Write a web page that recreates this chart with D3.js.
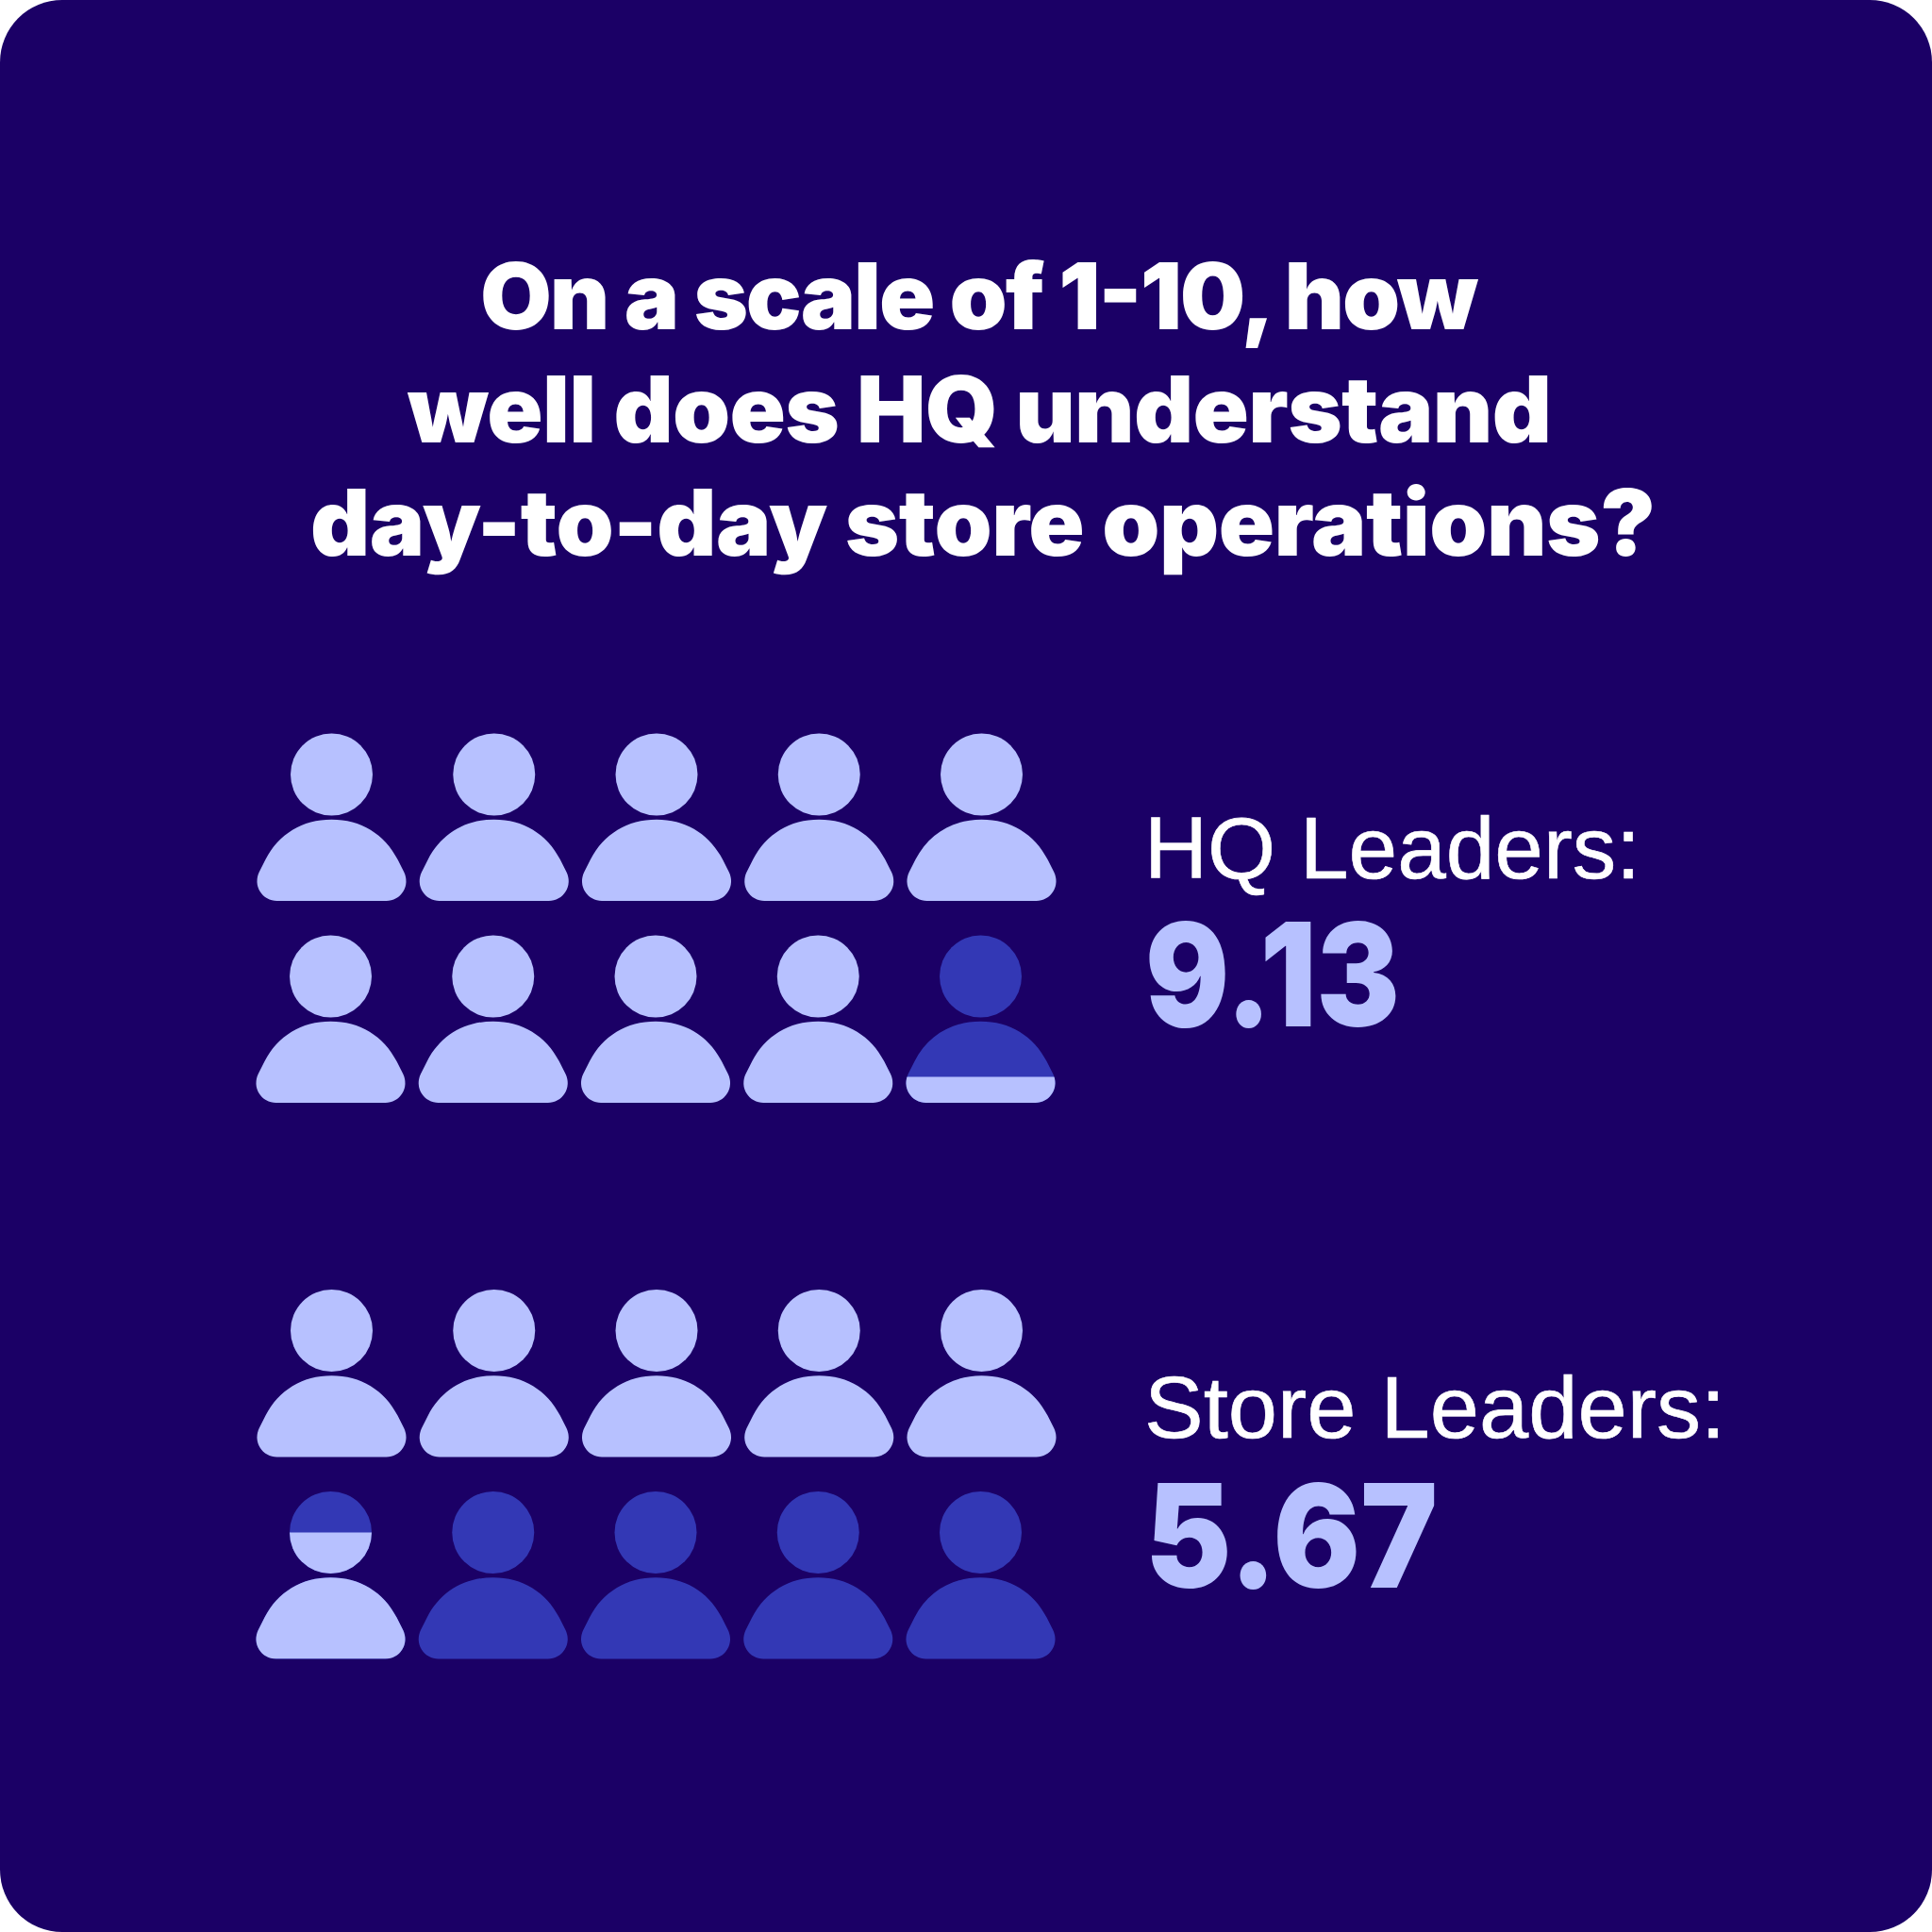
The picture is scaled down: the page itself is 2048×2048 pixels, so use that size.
<!DOCTYPE html>
<html>
<head>
<meta charset="utf-8">
<script src="https://cdn.jsdelivr.net/npm/d3@7"></script>
<style>
html, body { margin: 0; padding: 0; background: #fff; }
</style>
</head>
<body>
<div id="chart"></div>
<script>
const titleLines = ["On a scale of 1-10, how", "well does HQ understand", "day-to-day store operations?"];
const groups = ["HQ Leaders:", "Store Leaders:"];
const scores = [9.13, 5.67];
const rows = [0, 1];
const cols = [0, 1, 2, 3, 4];

const width = 2048, height = 2048;
const bg = "#1b0066", light = "#b7c1ff", dark = "#3338b5";

const svg = d3.select("#chart").append("svg")
    .attr("width", width).attr("height", height)
    .attr("viewBox", [0, 0, width, height])
    .style("display", "block");

svg.append("rect").attr("width", width).attr("height", height).attr("rx", 66).attr("fill", bg);

// each title line is fitted to its width in the reference
const titleX = d3.scaleOrdinal().domain(titleLines).range([509, 432, 329]);
const titleLength = d3.scaleOrdinal().domain(titleLines).range([1058, 1213, 1426]);
svg.append("g").selectAll("text").data(titleLines).join("text")
    .attr("x", d => titleX(d))
    .attr("y", d3.scalePoint().domain(titleLines).range([349, 589]))
    .attr("textLength", d => titleLength(d))
    .attr("lengthAdjust", "spacing")
    .attr("font-family", "Inter")
    .attr("font-weight", 900)
    .attr("font-size", 98)
    .attr("fill", "#fff")
    .text(d => d);

const x = d3.scalePoint().domain(cols).range([351.5, 1040.5]);
const rowOffset = d3.scalePoint().domain(rows).range([0, 214]);
const rowNudge = d3.scalePoint().domain(rows).range([0, -1]);
const groupY = d3.scalePoint().domain(groups).range([821, 1410.5]);

// where the colour change falls inside an icon, head centre = 0
const iconBottom = 134;
const cutY = d3.scaleLinear().domain([0.13, 0.67]).range([106.5, 0]);

function drawPerson(g, fill) {
    g.append("circle").attr("r", 43.5).attr("fill", fill);
    g.append("path")
        .attr("fill", fill)
        .attr("d", "M-58,134 A21,21 0 0 1 -76.8,103.6 L-70,90 C-56,63 -31,47.7 0,47.7 C31,47.7 56,63 70,90 L76.8,103.6 A21,21 0 0 1 58,134 Z");
}

groups.forEach((name, gi) => {
    const score = scores[gi];
    const g = svg.append("g");
    rows.forEach(r => cols.forEach(c => {
        const idx = r * 5 + c;
        const frac = Math.max(0, Math.min(1, score - idx)); // how much of this person is filled
        const person = g.append("g")
            .attr("transform", `translate(${x(c) + rowNudge(r)},${groupY(name) + rowOffset(r)})`);
        if (frac >= 1) {
            drawPerson(person, light);
            return;
        }
        drawPerson(person, dark);
        if (frac > 0) {
            const id = `clip-${gi}-${idx}`;
            const cut = cutY(frac);
            svg.append("clipPath").attr("id", id).append("rect")
                .attr("x", -100).attr("width", 200)
                .attr("y", cut).attr("height", iconBottom - cut);
            drawPerson(person.append("g").attr("clip-path", `url(#${id})`), light);
        }
    }));
    const labelY = [931, 1524][gi], scoreY = [1088, 1683][gi];
    const labelLength = [526, 616][gi], scoreLength = [270, 310][gi];
    svg.append("text").attr("x", 1213).attr("y", labelY)
        .attr("textLength", labelLength)
        .attr("lengthAdjust", "spacingAndGlyphs")
        .attr("font-family", "Liberation Sans").attr("font-size", 92)
        .attr("stroke", "#fff").attr("stroke-width", 0.6)
        .attr("fill", "#fff").text(name);
    svg.append("text").attr("x", 1214).attr("y", scoreY)
        .attr("textLength", scoreLength)
        .attr("lengthAdjust", "spacingAndGlyphs")
        .attr("font-family", "Inter").attr("font-weight", 900).attr("font-size", 152)
        .attr("fill", light).text(d3.format(".2f")(score));
});
</script>
</body>
</html>
